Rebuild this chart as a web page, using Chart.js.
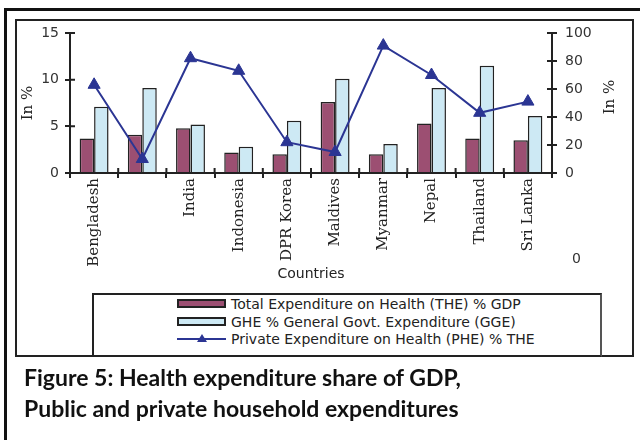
<!DOCTYPE html>
<html>
<head>
<meta charset="utf-8">
<script src="https://cdn.jsdelivr.net/npm/chart.js@4.4.1/dist/chart.umd.min.js"></script>
<style>
  body { margin: 0; background: #fff; }
  #wrap { position: relative; width: 640px; height: 440px; overflow: hidden; }
  #chart { position: absolute; left: 0; top: 0; }
  .outer { position: absolute; left: 4px; top: 8px; width: 660px; height: 460px; border-left: 3px solid #111; border-top: 3px solid #111; }
  .box { position: absolute; left: 15px; top: 19px; width: 615px; height: 334px; border: 2px solid #222; }
  .legend { position: absolute; left: 92px; top: 293px; width: 506px; height: 60px; border: 2px solid #222; border-right-color: #555; background: #fff;
            font-family: "DejaVu Sans", sans-serif; font-size: 14px; color: #222; }
  .row { position: absolute; left: 83px; height: 18px; line-height: 18px; white-space: nowrap; }
  .sw { display: inline-block; width: 45px; height: 5px; border: 2px solid #222; vertical-align: middle; margin-right: 5px; margin-top: -3px; }
  .ln { display: inline-block; width: 49px; height: 10px; vertical-align: middle; margin-right: 5px; margin-top: -3px; position: relative; }
  .ln:before { content: ""; position: absolute; left: 0; right: 0; top: 4px; height: 2px; background: #2b3593; }
  .ln:after { content: ""; position: absolute; left: 20px; top: 0; border-left: 5px solid transparent; border-right: 5px solid transparent; border-bottom: 8px solid #2b3593; }
  .caption { position: absolute; left: 24px; top: 362px; font-family: Lato, "Open Sans", sans-serif; font-weight: bold; font-size: 23px; line-height: 31px; color: #111; }
  .stray { position: absolute; left: 572px; top: 250px; font-family: "DejaVu Sans", sans-serif; font-size: 14px; color: #333; }
</style>
</head>
<body>
<div id="wrap">
  <div class="outer"></div>
  <div class="box"></div>
  <canvas id="chart" width="640" height="440"></canvas>
  <div class="stray">0</div>
  <div class="legend">
    <div class="row" style="top:0px"><span class="sw" style="background:#9c4f72"></span>Total Expenditure on Health (THE) % GDP</div>
    <div class="row" style="top:18px"><span class="sw" style="background:#cde9f4"></span>GHE % General Govt. Expenditure (GGE)</div>
    <div class="row" style="top:35px"><span class="ln"></span>Private Expenditure on Health (PHE) % THE</div>
  </div>
  <div class="caption">Figure 5: Health expenditure share of GDP,<br>Public and private household expenditures</div>
</div>
<script>
// 국가 (두 번째 항목은 원본에서 라벨이 비어 있음)
const countries = ['Bengladesh', '', 'India', 'Indonesia', 'DPR Korea', 'Maldives', 'Myanmar', 'Nepal', 'Thailand', 'Sri Lanka'];
const theGdp = [3.7, 4.1, 4.8, 2.2, 2.0, 7.6, 2.0, 5.3, 3.7, 3.5];     // 왼쪽 축
const gheGge = [7.1, 9.1, 5.2, 2.8, 5.6, 10.1, 3.1, 9.1, 11.5, 6.1];  // 왼쪽 축
const pheThe = [63, 10, 82, 73, 22, 15, 91, 70, 43, 51];             // 오른쪽 축
const leftTicks = [0, 5, 10, 15];
const rightTicks = [0, 20, 40, 60, 80, 100];

const tickFont = { family: 'DejaVu Sans', size: 14 };
const serifFont = { family: 'DejaVu Serif', size: 15 };

// 축을 가로지르는 눈금 (안쪽 부분) + 오른쪽 축 제목 (아래에서 위로)
const crossTicks = {
  id: 'crossTicks',
  afterDraw(chart) {
    const { ctx, scales } = chart;
    const x = scales.x, y = scales.y, y1 = scales.y1;
    ctx.save();
    ctx.strokeStyle = '#222';
    ctx.lineWidth = 2;
    ctx.beginPath();
    leftTicks.forEach(v => {
      const py = y.getPixelForValue(v);
      ctx.moveTo(x.left, py); ctx.lineTo(x.left + 5, py);
    });
    rightTicks.forEach(v => {
      const py = y1.getPixelForValue(v);
      ctx.moveTo(x.right - 5, py); ctx.lineTo(x.right, py);
    });
    const step = (x.right - x.left) / countries.length;
    for (let i = 0; i <= countries.length; i++) {
      const px = x.left + i * step;
      ctx.moveTo(px, y.bottom - 5); ctx.lineTo(px, y.bottom);
    }
    ctx.stroke();

    ctx.translate(y1.right - 30, (y1.top + y1.bottom) / 2 - 6);
    ctx.rotate(-Math.PI / 2);
    ctx.font = '15px "DejaVu Serif"';
    ctx.fillStyle = '#222';
    ctx.textAlign = 'center';
    ctx.textBaseline = 'middle';
    ctx.fillText('In %', 0, 0);
    ctx.restore();
  }
};

new Chart(document.getElementById('chart'), {
  type: 'bar',
  data: {
    labels: countries,
    datasets: [
      {
        type: 'line',
        label: 'Private Expenditure on Health (PHE) % THE',
        data: pheThe,
        yAxisID: 'y1',
        borderColor: '#2b3593',
        backgroundColor: '#2b3593',
        borderWidth: 2,
        pointStyle: 'triangle',
        pointRadius: 7,
        pointBorderWidth: 1,
        tension: 0,
        order: 0
      },
      {
        label: 'Total Expenditure on Health (THE) % GDP',
        data: theGdp,
        yAxisID: 'y',
        backgroundColor: '#9c4f72',
        borderColor: '#222',
        borderWidth: 1.5,
        categoryPercentage: 0.6,
        barPercentage: 1,
        order: 1
      },
      {
        label: 'GHE % General Govt. Expenditure (GGE)',
        data: gheGge,
        yAxisID: 'y',
        backgroundColor: '#cde9f4',
        borderColor: '#222',
        borderWidth: 1.5,
        categoryPercentage: 0.6,
        barPercentage: 1,
        order: 1
      }
    ]
  },
  options: {
    responsive: false,
    animation: false,
    layout: { padding: { top: 33 } },
    plugins: { legend: { display: false }, tooltip: { enabled: false } },
    scales: {
      x: {
        grid: { display: true, drawOnChartArea: false, offset: true, color: '#222', lineWidth: 2, tickLength: 5 },
        border: { color: '#222', width: 2 },
        ticks: { font: serifFont, color: '#222', minRotation: 90, maxRotation: 90, padding: 0, autoSkip: false },
        title: { display: true, text: 'Countries', font: tickFont, color: '#222', padding: { top: 0, bottom: 157 } },
        afterFit(scale) { scale.height = 267; }
      },
      y: {
        position: 'left',
        min: 0, max: 15,
        afterBuildTicks(scale) { scale.ticks = leftTicks.map(v => ({ value: v })); },
        grid: { display: true, drawOnChartArea: false, color: '#222', lineWidth: 2, tickLength: 5 },
        border: { color: '#222', width: 2 },
        ticks: { font: tickFont, color: '#333', padding: 6 },
        title: { display: true, text: 'In %', font: serifFont, color: '#222', padding: { top: 19 } },
        afterFit(scale) { scale.width = 70; }
      },
      y1: {
        position: 'right',
        min: 0, max: 100,
        afterBuildTicks(scale) { scale.ticks = rightTicks.map(v => ({ value: v })); },
        grid: { display: true, drawOnChartArea: false, color: '#222', lineWidth: 2, tickLength: 5 },
        border: { color: '#222', width: 2 },
        ticks: { font: tickFont, color: '#333', padding: 8 },
        afterFit(scale) { scale.width = 88; }
      }
    }
  },
  plugins: [crossTicks]
});
</script>
</body>
</html>
